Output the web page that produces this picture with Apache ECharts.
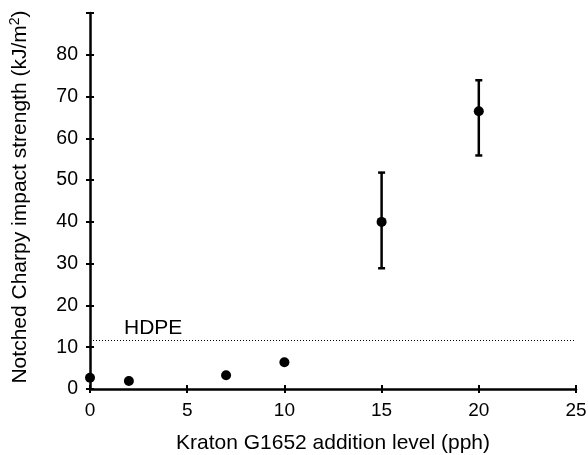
<!DOCTYPE html>
<html><head><meta charset="utf-8">
<script src="https://cdn.jsdelivr.net/npm/echarts@6/dist/echarts.min.js"></script>
<style>html,body{margin:0;padding:0;background:#fff}#c{width:588px;height:455px}</style>
</head><body><div id="c"></div>
<script>
const levels = [0, 2, 7, 10, 15, 20];
const strength = [2.7, 1.9, 3.3, 6.4, 40, 66.5];
const errLow = [null, null, null, null, 28.9, 55.9];
const errHigh = [null, null, null, null, 51.8, 73.9];
const hdpeValue = 11.6;
const hdpeLabel = 'HDPE';
const xTicks = [0, 5, 10, 15, 20, 25];
const yTicks = [0, 10, 20, 30, 40, 50, 60, 70, 80];
const xTitle = 'Kraton G1652 addition level (pph)';
const yTitle = ['Notched Charpy impact strength (kJ/m', '2', ')'];

const FONT = 'Liberation Sans, Arial, sans-serif';
const chart = echarts.init(document.getElementById('c'));
const points = levels.map((x, i) => [x, strength[i]]);
const bars = levels.map((x, i) => [x, errLow[i], errHigh[i]]).filter(d => d[1] != null);

const LW = 2.5;
const opt = {
  animation: false,
  grid: {left: 90, right: 12, top: 13, bottom: 66, containLabel: false, outerBoundsMode: 'none'},
  graphic: [{
    type: 'text', x: 20, y: 197, rotation: Math.PI / 2,
    style: {
      text: '{a|' + yTitle[0] + '}{s|' + yTitle[1] + '}{a|' + yTitle[2] + '}',
      align: 'center', verticalAlign: 'middle', fill: '#000',
      rich: {a: {fontSize: 21, fontFamily: FONT, fill: '#000'},
             s: {fontSize: 14, fontFamily: FONT, fill: '#000', verticalAlign: 'top', padding: [0, 0, 10, 0]}}
    }
  }],
  xAxis: [{
    type: 'value', min: 0, max: 25, interval: 5,
    axisLine: {show: true, lineStyle: {color: '#000', width: LW}}, splitLine: {show: false},
    axisTick: {show: true, length: 4, lineStyle: {color: '#000', width: 2}},
    axisLabel: {color: '#000', fontSize: 19, fontFamily: FONT, margin: 12,
      formatter: v => xTicks.includes(v) ? String(v) : ''},
    name: xTitle, nameLocation: 'middle', nameGap: 44,
    nameTextStyle: {color: '#000', fontSize: 21, fontFamily: FONT}
  }, {
    type: 'value', min: 0, max: 25, interval: 5, position: 'bottom',
    axisLine: {show: false}, splitLine: {show: false}, axisLabel: {show: false},
    axisTick: {show: true, inside: true, length: 4, lineStyle: {color: '#000', width: 2}}
  }],
  yAxis: [{
    type: 'value', min: 0, max: 90, interval: 10,
    axisLine: {show: true, lineStyle: {color: '#000', width: LW}}, splitLine: {show: false},
    axisTick: {show: true, length: 4, lineStyle: {color: '#000', width: 2}},
    axisLabel: {color: '#000', fontSize: 19.5, fontFamily: FONT, margin: 12,
      formatter: v => yTicks.includes(v) ? String(v) : ''}
  }, {
    type: 'value', min: 0, max: 90, interval: 10, position: 'left',
    axisLine: {show: false}, splitLine: {show: false}, axisLabel: {show: false},
    axisTick: {show: true, inside: true, length: 4, lineStyle: {color: '#000', width: 2}}
  }],
  series: [{
    type: 'custom', xAxisIndex: 0, yAxisIndex: 0, data: bars,
    renderItem: (params, api) => {
      const x = api.value(0);
      const lo = api.coord([x, api.value(1)]);
      const hi = api.coord([x, api.value(2)]);
      const w = 3.5;
      const st = {stroke: '#000', lineWidth: LW};
      return {type: 'group', children: [
        {type: 'line', shape: {x1: lo[0], y1: lo[1], x2: hi[0], y2: hi[1]}, style: st},
        {type: 'line', shape: {x1: lo[0]-w, y1: lo[1], x2: lo[0]+w, y2: lo[1]}, style: st},
        {type: 'line', shape: {x1: hi[0]-w, y1: hi[1], x2: hi[0]+w, y2: hi[1]}, style: st}
      ]};
    }
  }, {
    type: 'scatter', xAxisIndex: 0, yAxisIndex: 0, data: points,
    symbol: 'circle', symbolSize: 10, itemStyle: {color: '#000', opacity: 1}, z: 5,
    markLine: {
      silent: true, symbol: ['none', 'none'],
      lineStyle: {color: '#000', type: [1, 2], width: 1, opacity: 1},
      label: {show: true, formatter: hdpeLabel, position: 'insideStartTop', distance: [34, 2],
        color: '#000', fontSize: 21, fontFamily: FONT},
      data: [[{coord: [0, hdpeValue]}, {coord: [25, hdpeValue]}]]
    }
  }]
};
chart.setOption(opt);
</script></body></html>
